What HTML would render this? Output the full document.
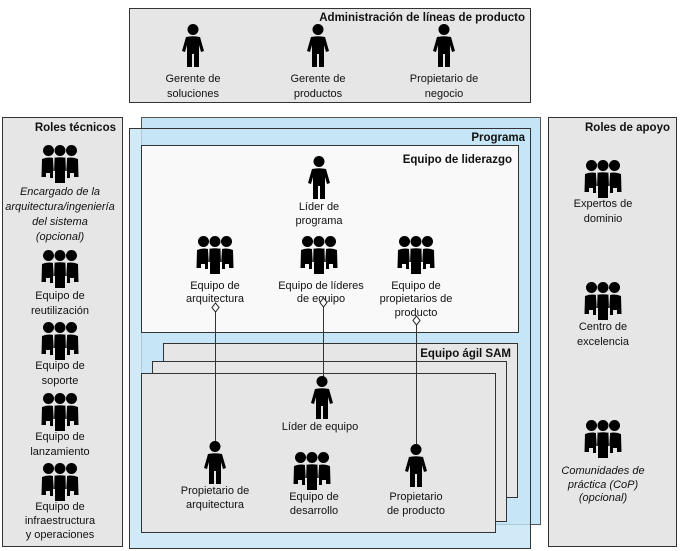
<!DOCTYPE html>
<html><head><meta charset="utf-8"><style>
html,body{margin:0;padding:0;background:#fff}
svg{display:block}
text{font-family:"Liberation Sans",Arial,sans-serif;font-size:11px;fill:#111}
.b{font-weight:bold;font-size:11.5px}
.i{font-style:italic}
</style></head><body>
<svg width="680" height="551" viewBox="0 0 680 551" xmlns="http://www.w3.org/2000/svg">
<defs>
<g id="p">
<circle cx="0" cy="5.5" r="5.5" fill="#000"/>
<path d="M-7,13 Q0,11.5 7,13 L11,27 L8,28 L6,21 L6,43 L1,43 L1,30 L-1,30 L-1,43 L-6,43 L-6,21 L-8,28 L-11,27 Z" fill="#000"/>
</g>
<g id="g">
<circle cx="-11.5" cy="5.5" r="5.5" fill="#000"/>
<circle cx="0" cy="5.5" r="5.5" fill="#000"/>
<circle cx="11.5" cy="5.5" r="5.5" fill="#000"/>
<path d="M-18,14 Q-12,11.5 -7,13 L-7,33 L-10,33 L-10,28 L-14,28 L-14,32 L-18.5,32 Z" fill="#000"/>
<path d="M18,14 Q12,11.5 7,13 L7,33 L10,33 L10,28 L14,28 L14,32 L18.5,32 Z" fill="#000"/>
<path d="M-7,13 Q0,11.5 7,13 L8,26 L5,26 L5,38 L-5,38 L-5,26 L-8,26 Z" fill="#000"/>
<path d="M-7,13 L-5.5,13 L-6,30 Z M7,13 L5.5,13 L6,30 Z" fill="#fff"/>
</g>
</defs>

<rect x="129.5" y="8.5" width="401" height="94" fill="#e6e6e6" stroke="#333"/>
<text class="b" x="525" y="21" text-anchor="end">Administración de líneas de producto</text>
<use href="#p" x="193" y="24"/><use href="#p" x="318" y="24"/><use href="#p" x="444" y="24"/>
<text x="193" y="82" text-anchor="middle">Gerente de</text><text x="193" y="97" text-anchor="middle">soluciones</text>
<text x="318" y="82" text-anchor="middle">Gerente de</text><text x="318" y="97" text-anchor="middle">productos</text>
<text x="444" y="82" text-anchor="middle">Propietario de</text><text x="444" y="97" text-anchor="middle">negocio</text>

<rect x="2.5" y="117.5" width="120" height="429" fill="#e6e6e6" stroke="#333"/>
<text class="b" x="116" y="131" text-anchor="end">Roles técnicos</text>
<use href="#g" x="60" y="145"/>
<text class="i" x="60" y="195" text-anchor="middle">Encargado de la</text>
<text class="i" x="60" y="210" text-anchor="middle">arquitectura/ingeniería</text>
<text class="i" x="60" y="225" text-anchor="middle">del sistema</text>
<text class="i" x="60" y="240" text-anchor="middle">(opcional)</text>
<use href="#g" x="60" y="250"/>
<text x="60" y="299" text-anchor="middle">Equipo de</text><text x="60" y="314" text-anchor="middle">reutilización</text>
<use href="#g" x="60" y="322"/>
<text x="60" y="369" text-anchor="middle">Equipo de</text><text x="60" y="384" text-anchor="middle">soporte</text>
<use href="#g" x="60" y="393"/>
<text x="60" y="440" text-anchor="middle">Equipo de</text><text x="60" y="455" text-anchor="middle">lanzamiento</text>
<use href="#g" x="60" y="463"/>
<text x="60" y="510" text-anchor="middle">Equipo de</text><text x="60" y="524" text-anchor="middle">infraestructura</text><text x="60" y="538" text-anchor="middle">y operaciones</text>

<rect x="548.5" y="117.5" width="128" height="429" fill="#e6e6e6" stroke="#333"/>
<text class="b" x="670" y="131" text-anchor="end">Roles de apoyo</text>
<use href="#g" x="603" y="160"/>
<text x="603" y="207" text-anchor="middle">Expertos de</text><text x="603" y="222" text-anchor="middle">dominio</text>
<use href="#g" x="603" y="282"/>
<text x="603" y="330" text-anchor="middle">Centro de</text><text x="603" y="345" text-anchor="middle">excelencia</text>
<use href="#g" x="603" y="420"/>
<text class="i" x="603" y="474" text-anchor="middle">Comunidades de</text><text class="i" x="603" y="488" text-anchor="middle">práctica (CoP)</text><text class="i" x="603" y="501" text-anchor="middle">(opcional)</text>

<rect x="141.5" y="117.5" width="399" height="407" fill="#c5e5f6" stroke="#555"/>
<rect x="129.5" y="128.5" width="401" height="420" fill="#c5e5f6" fill-opacity="0.8" stroke="#333"/>
<text class="b" x="525" y="141" text-anchor="end">Programa</text>

<rect x="141.5" y="145.5" width="377" height="187" fill="#f9f9f9" stroke="#333"/>
<text class="b" x="512" y="163" text-anchor="end">Equipo de liderazgo</text>
<use href="#p" x="319" y="156"/>
<text x="319" y="210" text-anchor="middle">Líder de</text><text x="319" y="224" text-anchor="middle">programa</text>
<use href="#g" x="215" y="236"/><use href="#g" x="319" y="236"/><use href="#g" x="416" y="236"/>
<text x="215" y="289" text-anchor="middle">Equipo de</text><text x="215" y="302" text-anchor="middle">arquitectura</text>
<text x="321" y="289" text-anchor="middle">Equipo de líderes</text><text x="321" y="302" text-anchor="middle">de equipo</text>
<text x="416" y="289" text-anchor="middle">Equipo de</text><text x="416" y="302" text-anchor="middle">propietarios de</text><text x="416" y="316" text-anchor="middle">producto</text>

<rect x="163.5" y="343.5" width="354" height="154" fill="#e6e6e6" stroke="#333"/>
<rect x="152.5" y="361.5" width="354" height="160" fill="#e6e6e6" stroke="#333"/>
<rect x="141.5" y="373.5" width="354" height="159" fill="#e6e6e6" stroke="#333"/>
<text class="b" x="511" y="357" text-anchor="end">Equipo ágil SAM</text>

<g stroke="#333" stroke-width="1">
<line x1="215.5" y1="312" x2="215.5" y2="444"/>
<line x1="323.5" y1="307" x2="323.5" y2="378"/>
<line x1="416.5" y1="325" x2="416.5" y2="446"/>
</g>
<g fill="#fff" stroke="#222">
<path d="M215.5,303 L219,307.5 L215.5,312 L212,307.5 Z"/>
<path d="M323.5,298 L327,302.5 L323.5,307 L320,302.5 Z"/>
<path d="M416.5,316 L420,320.5 L416.5,325 L413,320.5 Z"/>
</g>
<use href="#p" x="322" y="376"/>
<text x="320" y="430" text-anchor="middle">Líder de equipo</text>
<use href="#p" x="215" y="441"/>
<text x="215" y="494" text-anchor="middle">Propietario de</text><text x="215" y="508" text-anchor="middle">arquitectura</text>
<use href="#g" x="312" y="452"/>
<text x="314" y="500" text-anchor="middle">Equipo de</text><text x="314" y="514" text-anchor="middle">desarrollo</text>
<use href="#p" x="416" y="444"/>
<text x="416" y="500" text-anchor="middle">Propietario</text><text x="416" y="514" text-anchor="middle">de producto</text>
</svg>
</body></html>
